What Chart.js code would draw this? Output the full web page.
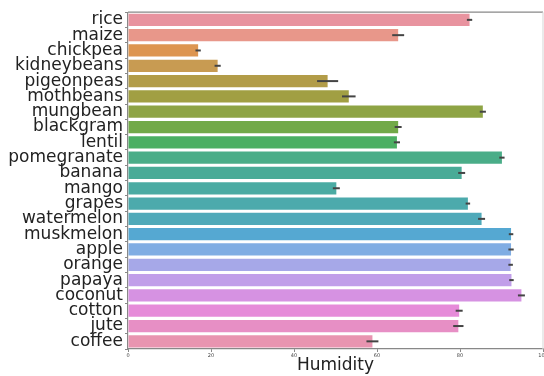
<!DOCTYPE html>
<html>
<head>
<meta charset="utf-8">
<script src="https://cdn.jsdelivr.net/npm/chart.js@4"></script>
<style>
  html, body { margin: 0; padding: 0; background: #fff; }
  #wrap { width: 544px; height: 376px; }
</style>
</head>
<body>
<div id="wrap"><canvas id="humidityChart" width="544" height="376"></canvas></div>
<script>
// Crop names (y categories)
const crops = ['rice', 'maize', 'chickpea', 'kidneybeans', 'pigeonpeas', 'mothbeans',
  'mungbean', 'blackgram', 'lentil', 'pomegranate', 'banana', 'mango', 'grapes',
  'watermelon', 'muskmelon', 'apple', 'orange', 'papaya', 'coconut', 'cotton', 'jute', 'coffee'];

// Mean humidity per crop
const humidity = [82.3, 65.1, 16.9, 21.6, 48.1, 53.2, 85.5, 65.1, 64.8, 90.1, 80.4, 50.2,
  81.9, 85.2, 92.3, 92.3, 92.2, 92.4, 94.8, 79.8, 79.6, 58.9];

// Half width of confidence interval
const ciHalf = [0.4, 1.2, 0.4, 0.5, 2.3, 1.4, 0.5, 0.6, 0.5, 0.4, 0.6, 0.6,
  0.3, 0.6, 0.3, 0.4, 0.3, 0.3, 0.6, 0.6, 1.0, 1.2];

// Bar colours (seaborn husl, desaturated)
const barColors = ['#e8939f', '#e8978a', '#dd9550', '#c89b52', '#b29c48', '#a19f43',
  '#8ea445', '#72a948', '#4baf62', '#4aad88', '#49ab97', '#4aaba3', '#4caaac',
  '#4fa9b9', '#55a8d2', '#80ade3', '#a6a8e8', '#c19ee9', '#d692e2', '#e68bd9',
  '#e78fc5', '#e894b0'];

const xTicks = [0, 20, 40, 60, 80, 100];

// Error bars + top/right spines
const extrasPlugin = {
  id: 'extras',
  afterDatasetsDraw(chart) {
    const ctx = chart.ctx;
    const xs = chart.scales.x;
    const ys = chart.scales.y;
    ctx.save();
    ctx.strokeStyle = '#444444';
    ctx.lineWidth = 2;
    humidity.forEach((v, i) => {
      const y = ys.getPixelForValue(i);
      ctx.beginPath();
      ctx.moveTo(xs.getPixelForValue(v - ciHalf[i]) - 1, y);
      ctx.lineTo(xs.getPixelForValue(v + ciHalf[i]) + 1, y);
      ctx.stroke();
    });
    const a = chart.chartArea;
    ctx.strokeStyle = '#888888';
    ctx.lineWidth = 1.2;
    ctx.beginPath();
    ctx.moveTo(a.left, a.top);
    ctx.lineTo(a.right, a.top);
    ctx.stroke();
    ctx.strokeStyle = '#dddddd';
    ctx.beginPath();
    ctx.moveTo(a.right, a.top);
    ctx.lineTo(a.right, a.bottom);
    ctx.stroke();
    ctx.restore();
  }
};

new Chart(document.getElementById('humidityChart').getContext('2d'), {
  type: 'bar',
  data: {
    labels: crops,
    datasets: [{
      data: humidity,
      backgroundColor: barColors,
      borderWidth: 0,
      barPercentage: 0.8,
      categoryPercentage: 1.0
    }]
  },
  options: {
    indexAxis: 'y',
    responsive: false,
    animation: false,
    layout: { padding: { top: 9, right: 1, left: 0, bottom: 0 } },
    plugins: {
      legend: { display: false },
      tooltip: { enabled: false }
    },
    scales: {
      x: {
        min: 0,
        max: 100,
        afterBuildTicks: scale => { scale.ticks = xTicks.map(v => ({ value: v })); },
        afterFit: scale => {
          scale.height = 27;
          scale.paddingRight = 0;
          scale.paddingLeft = 0;
        },
        grid: { display: true, drawOnChartArea: false, tickLength: 3, color: '#888888' },
        border: { display: true, color: '#888888', width: 1.2 },
        ticks: {
          color: '#444444',
          font: { family: 'DejaVu Sans', size: 5 },
          padding: 1,
          maxRotation: 0
        },
        title: {
          display: true,
          text: 'Humidity',
          color: '#222222',
          font: { family: 'DejaVu Sans', size: 17 },
          padding: { top: 0, bottom: 0 }
        }
      },
      y: {
        afterFit: scale => { scale.width = 128; },
        grid: { display: true, drawOnChartArea: false, tickLength: 3, color: '#888888' },
        border: { display: true, color: '#888888', width: 1.2 },
        ticks: {
          color: '#222222',
          font: { family: 'DejaVu Sans', size: 17 },
          padding: 2,
          autoSkip: false
        }
      }
    }
  },
  plugins: [extrasPlugin]
});
</script>
</body>
</html>
